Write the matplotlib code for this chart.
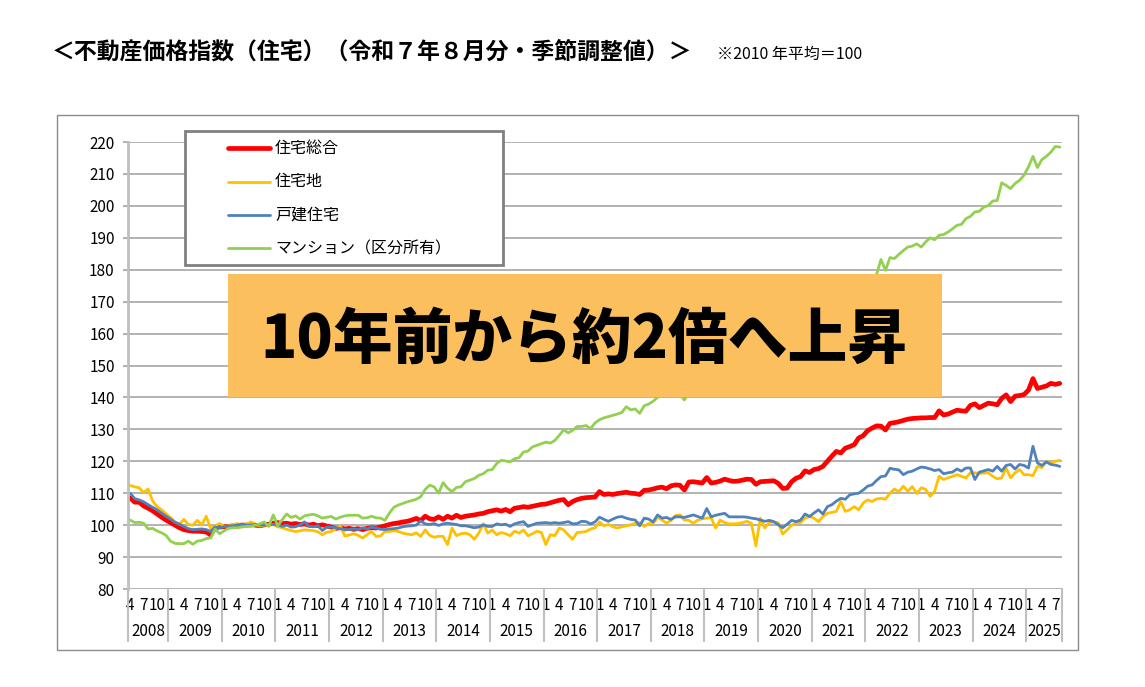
import numpy as np
import matplotlib
matplotlib.use('Agg')
import matplotlib.pyplot as plt
import matplotlib.transforms as mtransforms
from matplotlib.patches import Rectangle
from matplotlib.lines import Line2D

plt.rcParams['font.family'] = ['Noto Sans CJK JP', 'DejaVu Sans']

# monthly index, Apr 2008 .. Aug 2025 (2010 average = 100)
years = list(range(2008, 2026))
first_month = 4   # 2008 starts in April
last_month = 8    # 2025 ends in August

sougou = [  # 住宅総合
    108.5, 107.2, 107.2, 106.0, 105.3, 104.5, 103.5, 102.5, 101.6,
    100.8, 100.0, 99.2, 98.6, 98.3, 98.1, 98.1, 98.0, 97.9, 96.9, 99.2, 99.4,
    99.5, 99.6, 99.8, 99.9, 100.0, 100.0, 100.2, 100.0, 99.8, 100.1, 100.3, 100.6,
    100.8, 100.5, 100.6, 100.3, 100.5, 100.2, 100.4, 100.0, 100.3, 99.8, 100.1, 99.7,
    99.4, 99.0, 99.2, 98.8, 99.0, 98.7, 98.9, 98.6, 99.0, 99.2, 99.1, 99.4,
    99.8, 100.2, 100.5, 100.7, 101.0, 101.2, 101.6, 102.1, 101.4, 102.8, 102.0, 101.8,
    102.6, 101.8, 102.8, 102.2, 103.1, 102.4, 102.8, 103.0, 103.2, 103.5, 103.7, 104.2,
    104.5, 104.8, 104.4, 104.9, 104.2, 105.3, 105.5, 105.8, 105.6, 105.9, 106.2, 106.5,
    106.6, 107.0, 107.4, 107.8, 108.0, 106.4, 107.4, 108.0, 108.4, 108.6, 108.7, 108.8,
    110.5, 109.6, 109.8, 109.6, 109.9, 110.1, 110.3, 110.0, 109.9, 109.6, 110.9, 111.0,
    111.3, 111.7, 111.9, 111.4, 112.3, 112.6, 112.5, 111.0, 113.5, 113.6, 113.4, 113.2,
    114.9, 113.2, 113.4, 113.8, 114.4, 114.0, 113.7, 113.8, 114.1, 114.4, 114.3, 112.8,
    113.6, 113.7, 113.8, 113.9, 113.1, 111.5, 111.6, 113.6, 114.7, 115.2, 117.0, 116.5,
    117.4, 117.7, 118.4, 120.0, 121.6, 123.1, 122.6, 124.1, 124.6, 125.2, 127.3, 128.0,
    129.6, 130.4, 131.1, 131.0, 129.8, 131.9, 132.1, 132.4, 132.8, 133.2, 133.4, 133.5,
    133.6, 133.6, 133.7, 133.7, 135.8, 134.5, 134.8, 135.4, 136.0, 135.8, 135.7, 137.5,
    138.0, 136.8, 137.5, 138.2, 138.0, 137.7, 139.7, 140.8, 138.7, 140.4, 140.6, 140.9,
    142.3, 145.9, 142.8, 143.2, 143.6, 144.4, 144.1, 144.4,
]

takuchi = [  # 住宅地
    112.4, 112.0, 111.7, 110.2, 111.3, 107.6, 105.8, 104.8, 103.6,
    102.4, 101.0, 100.3, 101.8, 100.2, 100.0, 101.5, 100.0, 102.8, 98.9, 99.8, 100.5,
    99.6, 99.8, 100.2, 100.5, 99.8, 100.3, 101.0, 100.2, 99.7, 100.0, 99.9, 100.2,
    99.5, 99.2, 98.7, 98.3, 98.0, 98.2, 98.5, 98.4, 98.3, 97.9, 97.0, 97.8,
    98.0, 99.0, 99.8, 96.6, 96.9, 97.3, 96.8, 96.0, 97.0, 98.0, 96.5, 96.6,
    98.0, 98.0, 98.3, 98.0, 97.5, 97.2, 97.0, 97.6, 96.5, 98.5, 96.8, 96.2,
    96.5, 96.5, 93.9, 99.1, 96.7, 97.3, 97.5, 97.0, 95.6, 97.5, 100.4, 97.5,
    98.5, 97.0, 97.7, 97.3, 96.7, 98.1, 97.5, 98.5, 96.7, 97.3, 98.1, 97.7,
    93.9, 97.0, 96.7, 99.1, 98.5, 97.0, 95.6, 97.7, 97.8, 98.0, 98.8, 99.1,
    101.0, 99.8, 100.2, 99.5, 99.1, 99.5, 99.8, 100.1, 100.6, 100.8, 99.6, 100.5,
    100.5, 102.5, 101.6, 100.6, 101.5, 103.0, 103.2, 101.6, 101.5, 100.6, 101.6, 102.0,
    102.2, 102.3, 99.1, 101.6, 100.8, 100.4, 100.4, 100.5, 100.8, 101.2, 100.6, 93.5,
    102.2, 99.1, 100.8, 101.0, 100.8, 97.2, 98.5, 100.0, 100.6, 100.8, 102.2, 102.7,
    102.2, 101.1, 102.7, 103.7, 104.0, 104.3, 107.4, 104.3, 104.8, 105.8, 104.8, 106.9,
    107.9, 107.4, 108.2, 108.4, 108.1, 110.0, 111.3, 110.5, 112.2, 110.6, 112.1, 109.9,
    111.7, 111.2, 109.0, 110.6, 115.3, 114.3, 114.8, 115.3, 115.8, 115.3, 114.8, 116.4,
    116.4, 116.2, 116.3, 116.4, 115.3, 114.5, 114.8, 117.9, 114.8, 116.4, 117.4, 115.8,
    115.8, 115.5, 118.4, 118.0, 120.0, 119.5, 120.0, 120.3,
]

kodate = [  # 戸建住宅
    110.0, 108.3, 107.9, 107.3, 106.4, 105.6, 104.8, 103.8, 102.8,
    101.9, 100.9, 100.3, 99.6, 98.9, 98.6, 98.7, 98.8, 98.6, 98.0, 99.4, 99.2,
    99.5, 99.7, 99.8, 100.0, 100.3, 100.0, 100.0, 100.2, 100.1, 100.0, 100.3, 100.2,
    100.1, 99.6, 100.0, 99.4, 99.5, 100.1, 101.0, 99.6, 99.5, 99.8, 98.3, 99.4,
    99.4, 99.2, 98.9, 98.6, 98.6, 98.8, 98.6, 99.2, 98.8, 99.4, 99.1, 98.7,
    98.6, 98.8, 98.9, 99.1, 99.5, 99.7, 99.8, 100.0, 101.3, 100.4, 100.2, 100.5,
    99.9, 100.4, 100.6, 100.4, 100.2, 99.8, 99.8, 99.5, 99.2, 99.4, 100.1, 99.6,
    99.6, 100.4, 100.1, 100.3, 99.6, 100.4, 100.8, 101.1, 99.6, 100.1, 100.6, 100.7,
    100.8, 100.6, 100.8, 100.6, 100.8, 101.1, 100.4, 100.5, 101.2, 101.1, 100.4, 101.0,
    102.5, 101.8, 101.2, 101.9, 102.5, 102.7, 102.2, 101.8, 101.6, 99.8, 102.2, 101.9,
    101.0, 103.2, 102.2, 102.4, 101.8, 102.6, 102.6, 102.4, 102.8, 103.2, 102.7, 102.2,
    105.2, 102.6, 103.1, 103.4, 103.7, 102.6, 102.6, 102.6, 102.6, 102.5, 102.2, 102.0,
    101.6, 101.2, 101.5, 101.1, 100.1, 99.2, 100.3, 101.5, 101.1, 101.6, 103.5, 102.7,
    103.8, 104.8, 103.5, 105.8, 106.4, 107.5, 108.4, 108.1, 109.5, 109.8, 110.0, 111.0,
    112.2, 112.6, 114.0, 115.2, 115.4, 117.8, 117.5, 117.3, 115.8, 116.6, 116.9, 117.6,
    118.2, 118.0, 117.6, 117.1, 117.4, 116.1, 116.4, 116.6, 117.6, 116.9, 117.9, 117.9,
    114.3, 116.6, 117.0, 117.4, 116.9, 118.4, 116.9, 118.7, 119.0, 117.6, 119.0, 118.7,
    117.9, 124.7, 119.5, 118.7, 119.8, 119.0, 118.8, 118.4,
]

mansion = [  # マンション（区分所有）
    101.6, 100.8, 100.9, 100.6, 98.8, 99.0, 98.2, 97.6, 96.8,
    95.0, 94.3, 94.2, 94.2, 95.0, 94.0, 95.0, 95.2, 95.8, 96.0, 98.8, 97.3,
    98.2, 99.0, 99.2, 99.2, 99.4, 99.6, 99.6, 100.0, 100.4, 101.0, 99.6, 103.2,
    99.8, 101.7, 103.5, 102.4, 102.9, 101.9, 102.9, 103.2, 103.4, 102.9, 102.2, 102.5,
    102.7, 101.9, 102.5, 102.9, 103.1, 103.1, 103.1, 102.2, 102.3, 102.8, 102.3, 102.2,
    101.5, 103.8, 105.6, 106.3, 106.8, 107.3, 107.7, 108.1, 108.9, 111.2, 112.5, 112.0,
    110.0, 113.3, 111.6, 110.5, 111.8, 112.0, 113.6, 114.1, 114.6, 115.6, 116.1, 117.2,
    117.4, 119.3, 120.3, 120.1, 119.8, 120.8, 121.1, 122.9, 123.2, 124.5, 125.0, 125.5,
    126.0, 125.7, 126.5, 128.1, 129.9, 128.9, 129.7, 130.9, 130.9, 131.2, 130.2, 132.0,
    133.0, 133.6, 134.0, 134.4, 134.8, 135.3, 137.1, 136.1, 136.4, 135.0, 137.4, 137.9,
    138.8, 140.0, 140.8, 141.3, 141.8, 142.0, 141.0, 139.2, 141.5, 142.5, 143.2, 143.6,
    144.2, 145.0, 145.8, 146.0, 146.8, 147.2, 147.5, 148.0, 148.6, 149.0, 149.3, 149.8,
    150.5, 151.0, 151.2, 150.5, 149.8, 150.6, 152.0, 153.0, 153.8, 154.6, 155.4, 156.2,
    157.5, 158.8, 160.0, 161.2, 162.5, 163.8, 165.0, 166.5, 167.6, 168.8, 170.0, 171.5,
    174.0, 176.2, 178.5, 183.2, 179.8, 183.8, 183.5, 184.8, 186.0, 187.1, 187.4, 188.1,
    187.1, 188.7, 190.0, 189.4, 190.8, 191.0, 191.8, 192.8, 193.9, 194.2, 196.0, 196.7,
    198.1, 198.3, 199.6, 200.1, 201.5, 201.7, 207.2, 206.4, 205.4, 207.0, 208.0, 209.6,
    212.2, 215.5, 212.0, 214.5, 215.5, 216.8, 218.6, 218.4,
]

series_names = ['住宅総合', '住宅地', '戸建住宅', 'マンション（区分所有）']
series_colors = ['#FF0000', '#FFC000', '#4F81BD', '#92D050']
series_widths = [3.4, 2.0, 2.0, 2.0]

title = '＜不動産価格指数（住宅）（令和７年８月分・季節調整値）＞'
note = '※2010 年平均＝100'
callout = '10年前から約2倍へ上昇'

# month list for the category axis
months = []
for y in years:
    m0 = first_month if y == years[0] else 1
    m1 = last_month if y == years[-1] else 12
    for m in range(m0, m1 + 1):
        months.append((y, m))
n = len(months)

W, H = 1145, 687


def fx(p):
    return p / W


def fy(p):
    return 1 - p / H


fig = plt.figure(figsize=(W / 100, H / 100), dpi=100)

# outer chart frame
fig.patches.append(Rectangle((fx(57), fy(650)), fx(1078) - fx(57), fy(115) - fy(650),
                             transform=fig.transFigure, facecolor='none',
                             edgecolor='#8c8c8c', lw=1, zorder=0))

ax = fig.add_axes([fx(128), fy(589), fx(1062) - fx(128), fy(142) - fy(589)])
xs = np.arange(n)
for vals, c, lw in zip([sougou, takuchi, kodate, mansion], series_colors, series_widths):
    ax.plot(xs, vals, color=c, lw=lw, solid_joinstyle='round', solid_capstyle='round')

ax.set_xlim(-0.5, n - 0.5)
ax.set_ylim(80, 220)
ax.set_yticks(range(80, 221, 10))
ax.grid(axis='y', color='#a6a6a6', lw=1.2)
ax.set_axisbelow(True)
for s in ['top', 'right', 'bottom']:
    ax.spines[s].set_visible(False)
ax.spines['left'].set_color('#bfbfbf')
ax.spines['left'].set_linewidth(2)
ax.tick_params(axis='y', length=3.6, width=1.2, color='#a6a6a6', labelsize=11, pad=6)

tick_pos = [i for i, (y, m) in enumerate(months) if m in (1, 4, 7, 10)]
tick_lab = [str(months[i][1]) for i in tick_pos]
ax.set_xticks(tick_pos)
ax.set_xticklabels(tick_lab)
ax.tick_params(axis='x', length=0, labelsize=11, pad=6)

trans = mtransforms.blended_transform_factory(ax.transData, ax.transAxes)
bounds = [-0.5]
for y in years:
    idx = [i for i, (yy, m) in enumerate(months) if yy == y]
    ax.text((idx[0] + idx[-1]) / 2, -0.096, str(y), transform=trans,
            ha='center', va='center', fontsize=11)
    bounds.append(idx[-1] + 0.5)
for b in bounds:
    ax.plot([b, b], [0, -0.117], transform=trans, color='#bfbfbf', lw=1.5, clip_on=False)

# legend box
fig.patches.append(Rectangle((fx(185), fy(265)), fx(503) - fx(185), fy(131) - fy(265),
                             transform=fig.transFigure, facecolor='white',
                             edgecolor='#808080', lw=2, zorder=3))
for k, (name, c, lw) in enumerate(zip(series_names, series_colors, series_widths)):
    yy = 148 + k * 33.5
    fig.add_artist(Line2D([fx(228), fx(270)], [fy(yy), fy(yy)], color=c, lw=lw,
                          solid_capstyle='round', zorder=4))
    fig.text(fx(275), fy(yy), name, va='center', ha='left', fontsize=11.5, zorder=4)

# callout box
fig.patches.append(Rectangle((fx(228), fy(397)), fx(942) - fx(228), fy(274) - fy(397),
                             transform=fig.transFigure, facecolor='#FBBF5E',
                             edgecolor='none', zorder=3))
fig.text(fx(584), fy(340), callout, ha='center', va='center', fontsize=43,
         fontweight='black', color='black', zorder=4)

fig.text(fx(52), fy(52), title, ha='left', va='center', fontsize=16.5, fontweight='bold')
fig.text(fx(717), fy(54), note, ha='left', va='center', fontsize=11.5)

fig.savefig('out.png', dpi=100)
